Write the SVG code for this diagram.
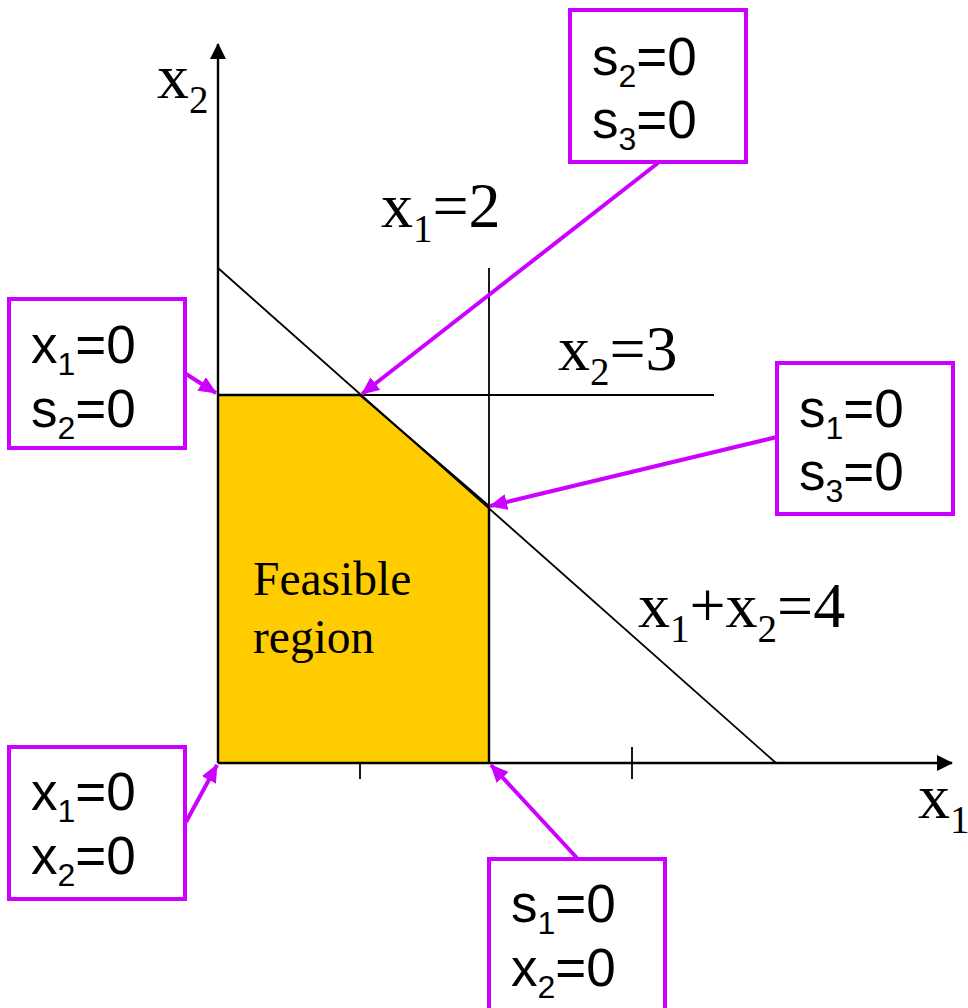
<svg xmlns="http://www.w3.org/2000/svg" width="968" height="1008" viewBox="0 0 968 1008">
<defs>
<marker id="ah" markerUnits="userSpaceOnUse" markerWidth="18" markerHeight="16" refX="17" refY="8" orient="auto">
<path d="M0,0 L18,8 L0,16 Z" fill="#CC00FF"/>
</marker>
<marker id="axh" markerUnits="userSpaceOnUse" markerWidth="16" markerHeight="16" refX="15" refY="8" orient="auto">
<path d="M0,0 L16,8 L0,16 Z" fill="#000"/>
</marker>
<style>
.ser{font-family:"Liberation Serif","Times New Roman",serif;font-size:64px;fill:#000}
.san{font-family:"Liberation Sans",Arial,sans-serif;font-size:53px;fill:#000}
.box{fill:#fff;stroke:#CC00FF;stroke-width:4}
.con{stroke:#CC00FF;stroke-width:4;fill:none;marker-end:url(#ah)}
.ln{stroke:#000;stroke-width:1.8;fill:none}
.ax{stroke:#000;stroke-width:2.4;fill:none}
</style>
</defs>
<rect width="968" height="1008" fill="#fff"/>
<g id="feasible-region">
<polygon points="218,395 360,395 489,506 489,763 218,763" fill="#FFCC00"/>
<text class="ser" x="253" y="595" style="font-size:47.5px">Feasible</text>
<text class="ser" x="253" y="653" style="font-size:47.5px">region</text>
</g>
<g id="constraints">
<line class="ln" x1="218" y1="268" x2="776" y2="763"/>
<line class="ln" x1="489" y1="268" x2="489" y2="763"/>
<line class="ln" x1="218" y1="395" x2="714" y2="395"/>
<line class="ax" x1="489" y1="506" x2="489" y2="763"/>
<line class="ax" x1="218" y1="395" x2="360" y2="395"/>
<line class="ax" x1="360" y1="395" x2="489" y2="506" style="stroke-width:2"/>
</g>
<g id="axes">
<line class="ax" x1="218" y1="763" x2="218" y2="44" marker-end="url(#axh)"/>
<line class="ax" x1="218" y1="763" x2="952" y2="763" marker-end="url(#axh)"/>
<line class="ln" x1="360" y1="763" x2="360" y2="779"/>
<line class="ln" x1="632" y1="747" x2="632" y2="779"/>
</g>
<g id="labels">
<text class="ser" x="157" y="98">x<tspan font-size="39" dy="15">2</tspan></text>
<text class="ser" x="381" y="227">x<tspan font-size="39" dy="15">1</tspan><tspan dy="-15">=2</tspan></text>
<text class="ser" x="558" y="370">x<tspan font-size="39" dy="15">2</tspan><tspan dy="-15">=3</tspan></text>
<text class="ser" x="638" y="627">x<tspan font-size="39" dy="15">1</tspan><tspan dy="-15">+x</tspan><tspan font-size="39" dy="15">2</tspan><tspan dy="-15">=4</tspan></text>
<text class="ser" x="918" y="818">x<tspan font-size="39" dy="15">1</tspan></text>
</g>
<g id="connectors">
<line class="con" x1="658" y1="163" x2="362" y2="394"/>
<line class="con" x1="186" y1="374" x2="216" y2="393"/>
<line class="con" x1="777" y1="437" x2="490" y2="506"/>
<line class="con" x1="186" y1="822" x2="217" y2="765"/>
<line class="con" x1="577" y1="858" x2="491" y2="765"/>
</g>
<g id="box-s2-s3">
<rect class="box" x="570" y="10" width="176" height="152"/>
<text class="san" x="592" y="75">s<tspan font-size="32" dy="12">2</tspan><tspan dy="-12">=0</tspan></text>
<text class="san" x="592" y="138">s<tspan font-size="32" dy="12">3</tspan><tspan dy="-12">=0</tspan></text>
</g>
<g id="box-x1-s2">
<rect class="box" x="9" y="299" width="176" height="149"/>
<text class="san" x="31" y="363">x<tspan font-size="32" dy="12">1</tspan><tspan dy="-12">=0</tspan></text>
<text class="san" x="31" y="427">s<tspan font-size="32" dy="12">2</tspan><tspan dy="-12">=0</tspan></text>
</g>
<g id="box-s1-s3">
<rect class="box" x="777" y="363" width="176" height="151"/>
<text class="san" x="799" y="427">s<tspan font-size="32" dy="12">1</tspan><tspan dy="-12">=0</tspan></text>
<text class="san" x="799" y="490">s<tspan font-size="32" dy="12">3</tspan><tspan dy="-12">=0</tspan></text>
</g>
<g id="box-x1-x2">
<rect class="box" x="9" y="747" width="176" height="152"/>
<text class="san" x="31" y="810">x<tspan font-size="32" dy="12">1</tspan><tspan dy="-12">=0</tspan></text>
<text class="san" x="31" y="874">x<tspan font-size="32" dy="12">2</tspan><tspan dy="-12">=0</tspan></text>
</g>
<g id="box-s1-x2">
<rect class="box" x="489" y="859" width="176" height="155"/>
<text class="san" x="511" y="922">s<tspan font-size="32" dy="12">1</tspan><tspan dy="-12">=0</tspan></text>
<text class="san" x="511" y="986">x<tspan font-size="32" dy="12">2</tspan><tspan dy="-12">=0</tspan></text>
</g>
</svg>
